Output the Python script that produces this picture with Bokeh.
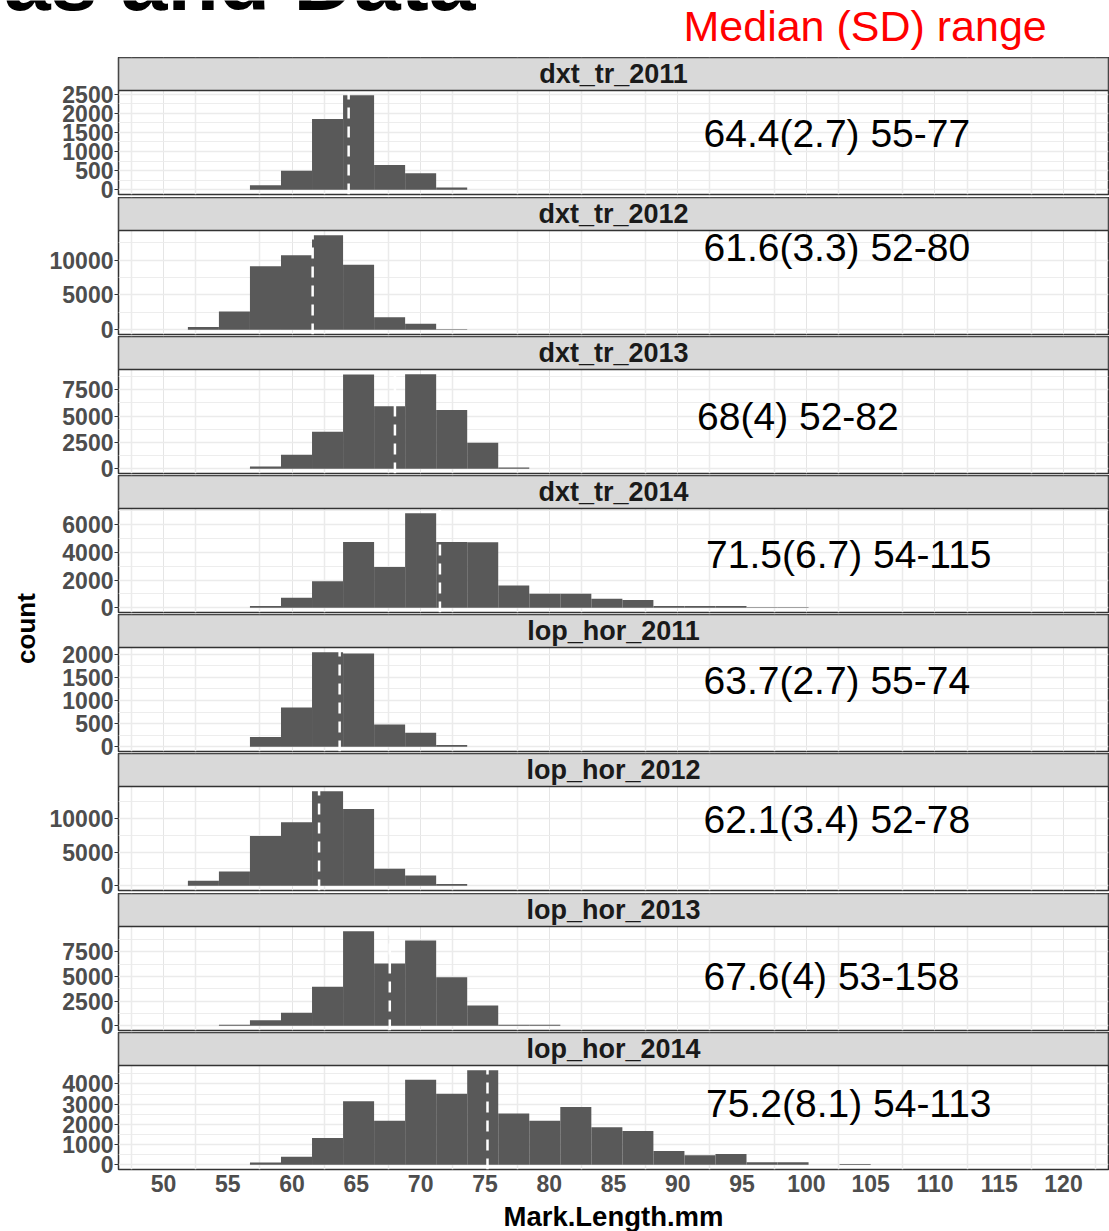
import math
from bokeh.plotting import figure
from bokeh.layouts import column, row
from bokeh.models import Range1d, FixedTicker, Grid, ColumnDataSource
from bokeh.core.properties import value
from bokeh.embed import file_html
from bokeh.resources import INLINE

# ---------------- data ----------------
facet_names = ["dxt_tr_2011", "dxt_tr_2012", "dxt_tr_2013", "dxt_tr_2014",
               "lop_hor_2011", "lop_hor_2012", "lop_hor_2013", "lop_hor_2014"]

# histogram bin edges (binwidth 70/29 on the 50-120 scale)
bin_edges = [51.897, 54.310, 56.724, 59.138, 61.552, 63.966, 66.379, 68.793,
             71.207, 73.621, 76.034, 78.448, 80.862, 83.276, 85.690, 88.103,
             90.517, 92.931, 95.345, 97.759, 100.172, 102.586, 105.000]

count_dxt_tr_2011 = [0, 0, 120, 500, 1850, 2470, 645, 430, 60, 0, 0,
                     0, 0, 0, 0, 0, 0, 0, 0, 0, 0, 0]
count_dxt_tr_2012 = [400, 2630, 9100, 10700, 13570, 9340, 1810, 860, 60, 0, 0,
                     0, 0, 0, 0, 0, 0, 0, 0, 0, 0, 0]
count_dxt_tr_2013 = [0, 0, 220, 1320, 3520, 8950, 5940, 8970, 5570, 2480, 120,
                     0, 0, 0, 0, 0, 0, 0, 0, 0, 0, 0]
count_dxt_tr_2014 = [0, 0, 120, 720, 1920, 4750, 2950, 6830, 4760, 4740, 1610,
                     1010, 1010, 650, 560, 120, 120, 120, 30, 30, 0, 0]
count_lop_hor_2011 = [0, 0, 210, 850, 2040, 2010, 480, 300, 40, 0, 0,
                      0, 0, 0, 0, 0, 0, 0, 0, 0, 0, 0]
count_lop_hor_2012 = [735, 2110, 7400, 9460, 14070, 11420, 2550, 1520, 250, 0, 0,
                      0, 0, 0, 0, 0, 0, 0, 0, 0, 0, 0]
count_lop_hor_2013 = [0, 100, 570, 1330, 3970, 9600, 6330, 8670, 4930, 2070, 100,
                      100, 0, 0, 0, 0, 0, 0, 0, 0, 0, 0]
count_lop_hor_2014 = [0, 0, 110, 400, 1330, 3140, 2180, 4210, 3510, 4680, 2540,
                      2180, 2860, 1860, 1670, 680, 470, 530, 130, 130, 0, 40]

facet_counts = [count_dxt_tr_2011, count_dxt_tr_2012, count_dxt_tr_2013, count_dxt_tr_2014,
                count_lop_hor_2011, count_lop_hor_2012, count_lop_hor_2013, count_lop_hor_2014]

medians = [64.4, 61.6, 68.0, 71.5, 63.7, 62.1, 67.6, 75.2]
stat_labels = ["64.4(2.7) 55-77", "61.6(3.3) 52-80", "68(4) 52-82", "71.5(6.7) 54-115",
               "63.7(2.7) 55-74", "62.1(3.4) 52-78", "67.6(4) 53-158", "75.2(8.1) 54-113"]

y_ticks = [[0, 500, 1000, 1500, 2000, 2500],
           [0, 5000, 10000],
           [0, 2500, 5000, 7500],
           [0, 2000, 4000, 6000],
           [0, 500, 1000, 1500, 2000],
           [0, 5000, 10000],
           [0, 2500, 5000, 7500],
           [0, 1000, 2000, 3000, 4000]]

x_ticks = [50, 55, 60, 65, 70, 75, 80, 85, 90, 95, 100, 105, 110, 115, 120]
x_limits = (50, 120)
x_title = "Mark.Length.mm"
y_title = "count"

# ---------------- layout / style ----------------
FONT = "Liberation Sans"
PANEL_W = 1069
BORDER_L = 78
BORDER_R = 1
STRIP_H = 33
PANEL_H = 104
GAPS = [3, 2, 2, 2, 2, 3, 2]
EXT = 9            # extra canvas below each facet so its lowest tick label is not clipped
AXIS_H = 31        # tick-label band under the last panel
FOOT_H = 31        # band holding the x title
LEFT_W = 40
HEADER_H = 57
TOTAL_W = LEFT_W + PANEL_W

label_x = [92.0, 92.0, 91.5, 92.2, 92.0, 92.0, 92.0, 92.2]
label_frac = [0.586, 0.835, 0.550, 0.560, 0.687, 0.678, 0.524, 0.630]

pad = 0.05 * (x_limits[1] - x_limits[0])
xr = Range1d(x_limits[0] - pad, x_limits[1] + pad)
x_grid = [t - 2.5 for t in x_ticks] + [x_ticks[-1] + 2.5]

facets = []
col_h = 0
n = len(facet_names)
for i in range(n):
    c = facet_counts[i]
    M = max(c)
    ymin, ymax = -0.05 * M, 1.05 * M
    frame_h = STRIP_H + PANEL_H
    yend = ymin + (ymax - ymin) * frame_h / PANEL_H
    last = (i == n - 1)
    mb = AXIS_H if last else GAPS[i] + EXT
    p = figure(width=PANEL_W, height=frame_h + mb,
               x_range=xr, y_range=Range1d(ymin, yend),
               x_axis_location="below" if last else None,
               title=None, toolbar_location=None, output_backend="svg",
               min_border_left=BORDER_L, min_border_right=BORDER_R,
               min_border_top=0, min_border_bottom=mb)
    if not last:
        p.margin = (0, 0, -EXT, 0)
        col_h += frame_h + GAPS[i]
    else:
        col_h += frame_h + AXIS_H
    p.background_fill_color = "white"
    p.border_fill_color = None
    p.outline_line_color = "#333333"
    p.outline_line_width = 1.5

    # vertical grid lines
    if last:
        p.xgrid.visible = False
    p.add_layout(Grid(dimension=0, ticker=FixedTicker(ticks=x_grid),
                      grid_line_color="#EBEBEB", grid_line_width=1.5))

    # y axis + horizontal grid
    t = y_ticks[i]
    step = t[1] - t[0]
    minor = [a + step / 2 for a in t if a + step / 2 <= ymax]
    p.yaxis.ticker = FixedTicker(ticks=t, minor_ticks=minor)
    p.yaxis.axis_line_color = None
    p.yaxis.major_tick_line_color = "#333333"
    p.yaxis.major_tick_out = 4
    p.yaxis.major_tick_in = 0
    p.yaxis.minor_tick_line_color = None
    p.yaxis.major_label_standoff = 1
    p.yaxis.major_label_text_font = FONT
    p.yaxis.major_label_text_font_style = "bold"
    p.yaxis.major_label_text_font_size = "23px"
    p.yaxis.major_label_text_color = "#4D4D4D"
    p.ygrid.grid_line_color = "#EBEBEB"
    p.ygrid.grid_line_width = 1.4
    p.ygrid.minor_grid_line_color = "#EBEBEB"
    p.ygrid.minor_grid_line_width = 0.9

    if last:
        p.xaxis.ticker = FixedTicker(ticks=x_ticks, minor_ticks=[])
        p.xaxis.axis_line_color = None
        p.xaxis.major_tick_out = 0
        p.xaxis.major_tick_in = 0
        p.xaxis.minor_tick_line_color = None
        p.xaxis.major_label_standoff = 5
        p.xaxis.major_label_text_font = FONT
        p.xaxis.major_label_text_font_style = "bold"
        p.xaxis.major_label_text_font_size = "23px"
        p.xaxis.major_label_text_color = "#4D4D4D"

    # histogram bars
    src = ColumnDataSource(dict(left=bin_edges[:-1], right=bin_edges[1:], top=c))
    p.quad(left="left", right="right", top="top", bottom=0, source=src,
           fill_color="#595959", line_color=None)

    # median line
    p.segment(x0=[medians[i]], y0=[ymin], x1=[medians[i]], y1=[ymax],
              line_color="white", line_width=2.5, line_dash="11 8")

    # strip
    p.quad(left=[xr.start], right=[xr.end], bottom=[ymax], top=[yend],
           fill_color="#D9D9D9", line_color="#333333", line_width=1.5)
    p.text(x=[(xr.start + xr.end) / 2], y=[(ymax + yend) / 2], text=[facet_names[i]],
           text_font=value(FONT), text_font_style="bold", text_font_size="27px",
           text_color="#1A1A1A", text_align="center", text_baseline="middle")

    # stats label
    ly = ymin + label_frac[i] * (ymax - ymin)
    p.text(x=[label_x[i]], y=[ly], text=[stat_labels[i]],
           text_font=value(FONT), text_font_size="39px", text_color="black",
           text_align="left", text_baseline="middle")
    facets.append(p)

# footer band with the x title (shares the x scale of the panels)
footer = figure(width=PANEL_W, height=FOOT_H, x_range=xr, y_range=Range1d(0, FOOT_H),
                x_axis_type=None, y_axis_type=None, title=None, toolbar_location=None,
                output_backend="svg", min_border_left=BORDER_L, min_border_right=BORDER_R,
                min_border_top=0, min_border_bottom=0)
footer.outline_line_color = None
footer.background_fill_color = "white"
footer.border_fill_color = "white"
footer.text(x=[(xr.start + xr.end) / 2], y=[FOOT_H - 15.5], text=[x_title],
            text_font=value(FONT), text_font_style="bold", text_font_size="27.5px",
            text_color="black", text_align="center", text_baseline="middle")
col_h += FOOT_H

# left strip with y title
left = figure(width=LEFT_W, height=col_h, x_range=Range1d(0, LEFT_W), y_range=Range1d(0, col_h),
              x_axis_type=None, y_axis_type=None, title=None, toolbar_location=None,
              output_backend="svg", min_border=0)
left.outline_line_color = None
left.background_fill_color = "white"
left.border_fill_color = "white"
left.text(x=[25.0], y=[col_h - (628 - HEADER_H)], text=[y_title], angle=math.pi / 2,
          text_font=value(FONT), text_font_style="bold", text_font_size="26px",
          text_color="black", text_align="center", text_baseline="middle")

# header
header = figure(width=TOTAL_W, height=HEADER_H, x_range=Range1d(0, TOTAL_W), y_range=Range1d(0, HEADER_H),
                x_axis_type=None, y_axis_type=None, title=None, toolbar_location=None,
                output_backend="svg", min_border=0)
header.outline_line_color = None
header.background_fill_color = "white"
header.border_fill_color = "white"
header.text(x=[683], y=[HEADER_H - 25.8], text=["Median (SD) range"],
            text_font=value(FONT), text_font_size="43px", text_color="#FF0000",
            text_align="left", text_baseline="middle")
header.text(x=[475], y=[HEADER_H + 19.1], text=["as and Data"],
            text_font=value(FONT), text_font_style="bold", text_font_size="84px",
            text_color="black", text_align="right", text_baseline="middle")

layout = column(header, row(left, column(*facets, footer, spacing=0), spacing=0), spacing=0)

open("out.html", "w").write(file_html(layout, INLINE))
